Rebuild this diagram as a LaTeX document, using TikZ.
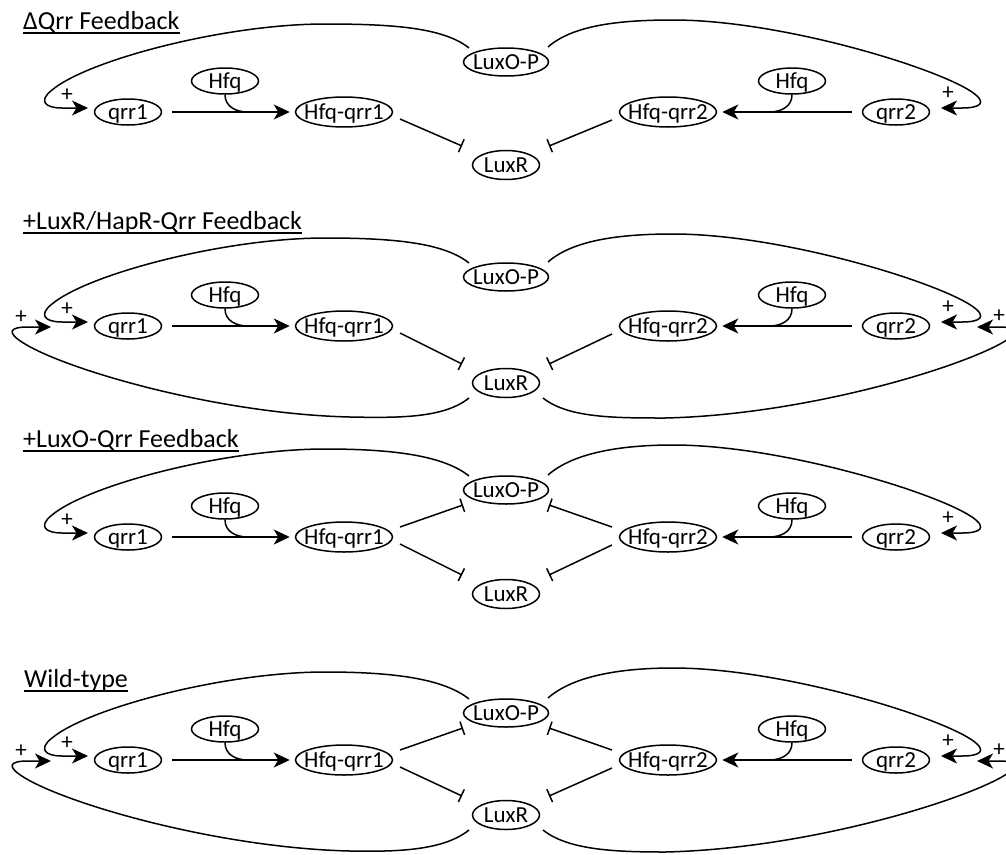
\documentclass[tikz,border=0pt]{standalone}
\usepackage{fontspec}
\setmainfont{Carlito}
\usetikzlibrary{shapes.geometric,arrows.meta,calc}
\newcommand{\QPanel}[4]{%
  % #1 suffix, #2 row y, #3 LuxO-P rel y, #4 LuxR rel y
  \node[sm] (q1#1) at (128,#2) {qrr1};
  \node[sm] (hl#1) at (225,#2-31) {Hfq};
  \node[md] (hqa#1) at (344,#2) {Hfq-qrr1};
  \node[lox] (lo#1) at (506,#2+#3) {LuxO-P};
  \node[lrx] (lr#1) at (506,#2+#4) {LuxR};
  \node[md] (hqb#1) at (668,#2) {Hfq-qrr2};
  \node[sm] (hr#1) at (792,#2-31) {Hfq};
  \node[sm] (q2#1) at (896,#2) {qrr2};
  \coordinate (jl#1) at (248,#2);
  \coordinate (jr#1) at (769,#2);
  \draw[act, shorten <=10pt, shorten >=5pt] (q1#1) -- (hqa#1);
  \draw[act, shorten <=10pt, shorten >=5pt] (q2#1) -- (hqb#1);
  \draw[ln] (hl#1.south) .. controls +(0,12) and +(-12,0) .. (jl#1);
  \draw[ln] (hr#1.south) .. controls +(0,12) and +(12,0) .. (jr#1);
  % top feedback loops
  \draw[act] ($(lo#1)+(-37,-14)$) .. controls +(-25,-20) and (395,#2-88) .. (325,#2-88)
     .. controls (225,#2-88) and (88,#2-52) .. (52,#2-22)
     .. controls (38,#2-11) and (45,#2-4) .. (62,#2-4) -- (88,#2-4);
  \node[plus] (pl#1) at (67,#2-17) {+};
  \draw[act] ($(lo#1)+(42,-15)$) .. controls +(25,-22) and (620,#2-92) .. (673,#2-92)
     .. controls (780,#2-92) and (935,#2-45) .. (972,#2-20)
     .. controls (988,#2-9) and (980,#2-4) .. (962,#2-4) -- (941,#2-4);
  \node[plus] (pr#1) at (948,#2-19) {+};
  % inhibition of LuxR
  \draw[inh] ($(hqa#1)+(56,7)$) -- ($(lr#1)+(-44,-19)$);
  \draw[inh] ($(hqb#1)+(-56,8)$) -- ($(lr#1)+(43,-19)$);
}
\newcommand{\QInhLuxO}[1]{%
  \draw[inh] ($(hqa#1)+(56,-10)$) -- ($(lo#1)+(-43,15)$);
  \draw[inh] ($(hqb#1)+(-56,-10)$) -- ($(lo#1)+(43,15)$);
}
\newcommand{\QOuter}[2]{%
  \draw[act] ($(lr#1)+(-37,15)$) .. controls +(-25,20) and (400,#2+92) .. (350,#2+91)
     .. controls (220,#2+88) and (70,#2+45) .. (25,#2+18)
     .. controls (5,#2+6) and (10,#2+1) .. (28,#2+1) -- (51,#2+1);
  \node[plus] (ol#1) at (21,#2-9) {+};
  \draw[act] ($(lr#1)+(37,15)$) .. controls +(25,20) and (615,#2+92) .. (665,#2+92)
     .. controls (800,#2+89) and (950,#2+45) .. (1000,#2+18)
     .. controls (1022,#2+6) and (1015,#2+1) .. (1000,#2+1) -- (977,#2+1);
  \node[plus] (or#1) at (999,#2-10) {+};
}
\begin{document}
\begin{tikzpicture}[x=1pt,y=-1pt,
  every node/.style={font=\fontsize{23}{25}\selectfont},
  sp/.style={draw, ellipse, line width=1.5pt, inner xsep=-15pt, inner ysep=-5pt,
             text height=14.5pt, text depth=0.5pt},
  sm/.style={sp, minimum width=67pt, minimum height=26pt},
  md/.style={sp, minimum width=97pt, minimum height=30pt},
  lox/.style={sp, minimum width=85pt, minimum height=28pt},
  lrx/.style={sp, minimum width=67pt, minimum height=29pt},
  ln/.style={line width=1.5pt},
  act/.style={ln, -{Stealth[length=16pt,width=15pt,inset=4.5pt]}},
  inh/.style={ln, -{Bar[width=14pt]}},
  plus/.style={inner sep=0pt},
  ttl/.style={anchor=base west, inner sep=0pt, font=\fontsize{26}{29}\selectfont},
  uline/.style={line width=1.2pt}
]
\useasboundingbox (0,0) rectangle (1006,854);
\clip (0,0) rectangle (1006,854);

% titles
\node[ttl] (t1) at (23,29) {ΔQrr Feedback};
\draw[uline] ($(t1.base west)+(0,4)$) -- ($(t1.base east)+(0,4)$);
\node[ttl] (t2) at (23,229) {+LuxR/HapR-Qrr Feedback};
\draw[uline] ($(t2.base west)+(0,4)$) -- ($(t2.base east)+(0,4)$);
\node[ttl] (t3) at (23,447) {+LuxO-Qrr Feedback};
\draw[uline] ($(t3.base west)+(0,4)$) -- ($(t3.base east)+(0,4)$);
\node[ttl] (t4) at (24,687) {Wild-type};
\draw[uline] ($(t4.base west)+(0,4)$) -- ($(t4.base east)+(0,4)$);

% panels
\QPanel{a}{112}{-50}{53}
\QPanel{b}{326}{-49}{57}
\QOuter{b}{326}
\QPanel{c}{537}{-47}{57}
\QInhLuxO{c}
\QPanel{d}{760}{-47}{55}
\QInhLuxO{d}
\QOuter{d}{760}
\end{tikzpicture}
\end{document}
